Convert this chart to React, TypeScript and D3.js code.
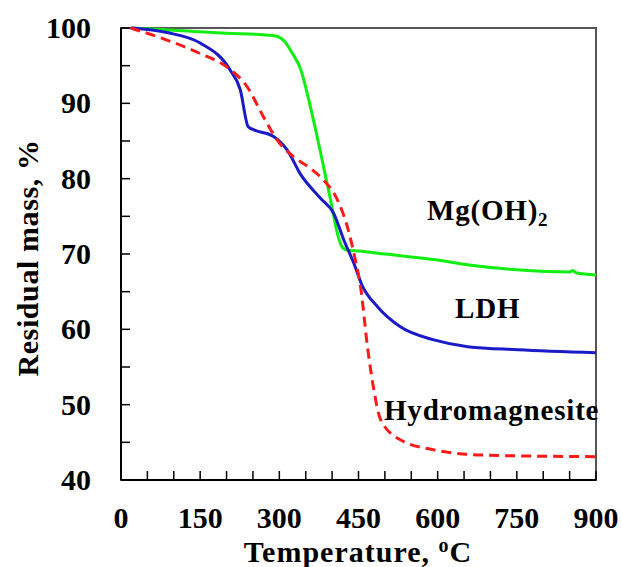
import React from "react";
import * as d3 from "d3";

// temperatures (°C) and residual mass (%)
const mgTemp = [20, 100, 200, 270, 295, 310, 325, 340, 360, 378, 397, 412, 420, 430, 450, 500, 600, 663, 750, 850, 856, 862, 900];
const mgMass = [100, 99.7, 99.3, 99.1, 98.9, 98.2, 96.6, 94.6, 89.2, 83.5, 77.2, 72.2, 70.8, 70.5, 70.4, 70.0, 69.2, 68.5, 67.9, 67.6, 67.8, 67.5, 67.2];

const ldhTemp = [20, 87, 150, 207, 226, 241, 251, 289, 315, 340, 378, 403, 422, 441, 457, 486, 530, 593, 657, 752, 900];
const ldhMass = [100, 99.4, 98, 94.4, 91.8, 86.9, 86.5, 85.6, 83.8, 80.6, 77.4, 75.4, 71.9, 68.8, 65.8, 63, 60.3, 58.6, 57.7, 57.3, 56.9];

const hmTemp = [18, 87, 150, 201, 239, 270, 296, 327, 360, 384, 410, 429, 444, 454, 467, 479, 492, 530, 593, 688, 900];
const hmMass = [100, 98.4, 96.6, 94.8, 92.2, 88.2, 85.1, 82.9, 81.3, 79.8, 77.2, 73.6, 69.2, 65.6, 57.7, 52, 48, 45.3, 44, 43.3, 43.1];

const xTickLabels = [0, 150, 300, 450, 600, 750, 900];
const yTickLabels = [40, 50, 60, 70, 80, 90, 100];

const W = 621;
const H = 567;
const left = 121;
const right = 596;
const top = 28;
const bottom = 480;
const font = "'Liberation Serif', 'Times New Roman', serif";

const x = d3.scaleLinear().domain([0, 900]).range([left, right]);
const y = d3.scaleLinear().domain([40, 100]).range([bottom, top]);

const line = d3
  .line<[number, number]>()
  .x((d) => x(d[0]))
  .y((d) => y(d[1]))
  .curve(d3.curveMonotoneX);

const pts = (t: number[], m: number[]) => t.map((v, i) => [v, m[i]] as [number, number]);

export default function App() {
  const xMinor = d3.range(0, 901, 50);
  const yMinor = d3.range(40, 101, 5);
  return (
    <svg width={W} height={H} style={{ position: "absolute", left: 0, top: 0, background: "#fff" }}>
      {/* frame */}
      <rect x={left} y={top} width={right - left} height={bottom - top} fill="none" stroke="#555" strokeWidth={2} />
      <line x1={left} x2={left} y1={top} y2={bottom} stroke="#000" strokeWidth={2} />
      <line x1={left} x2={right} y1={bottom} y2={bottom} stroke="#000" strokeWidth={2} />

      {/* ticks */}
      {xMinor.map((t) => (
        <line key={"xt" + t} x1={x(t)} x2={x(t)} y1={bottom} y2={bottom - 9} stroke="#000" strokeWidth={1.5} />
      ))}
      {yMinor.map((v) => (
        <line key={"yt" + v} x1={left} x2={left + 9} y1={y(v)} y2={y(v)} stroke="#000" strokeWidth={1.5} />
      ))}

      {/* tick labels */}
      <g fontFamily={font} fontWeight="bold" fontSize={30} fill="#000">
        {xTickLabels.map((t) => (
          <text key={"xl" + t} x={x(t)} y={528} textAnchor="middle">
            {t}
          </text>
        ))}
        {yTickLabels.map((v) => (
          <text key={"yl" + v} x={91} y={y(v) + 10} textAnchor="end">
            {v}
          </text>
        ))}
      </g>

      {/* curves */}
      <path d={line(pts(mgTemp, mgMass)) || ""} fill="none" stroke="#11ee11" strokeWidth={3} />
      <path d={line(pts(ldhTemp, ldhMass)) || ""} fill="none" stroke="#1a1ac8" strokeWidth={3} />
      <path
        d={line(pts(hmTemp, hmMass)) || ""}
        fill="none"
        stroke="#ff1a1a"
        strokeWidth={3}
        strokeDasharray="10,6"
      />

      {/* series labels */}
      <g fontFamily={font} fontWeight="bold" fontSize={29} fill="#000" letterSpacing={0.8}>
        <text x={427} y={220}>
          Mg(OH)<tspan fontSize={19} dy={6}>2</tspan>
        </text>
        <text x={455} y={318}>LDH</text>
        <text x={384} y={420}>Hydromagnesite</text>
      </g>

      {/* axis titles */}
      <g fontFamily={font} fontWeight="bold" fontSize={30} fill="#000">
        <text x={358} y={562} textAnchor="middle" letterSpacing={1}>
          Temperature,{" "}
          <tspan fontSize={20} dy={-10}>o</tspan>
          <tspan dy={10}>C</tspan>
        </text>
        <text transform="translate(38,258) rotate(-90)" textAnchor="middle" letterSpacing={0.6}>
          Residual mass, %
        </text>
      </g>
    </svg>
  );
}
